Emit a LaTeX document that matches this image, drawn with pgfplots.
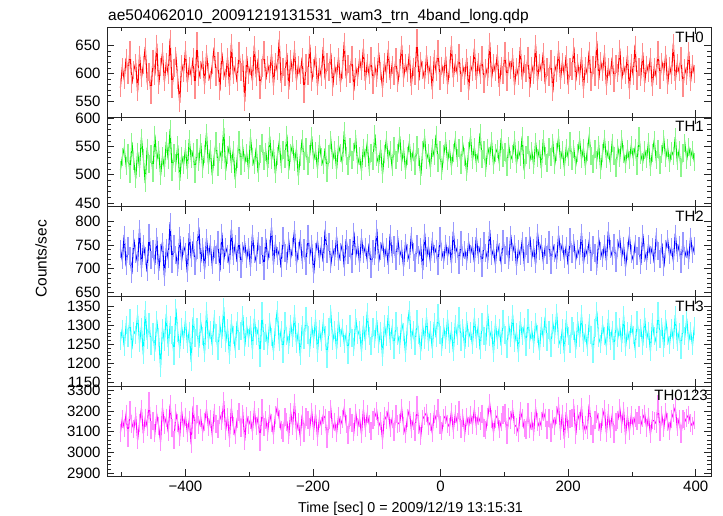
\documentclass[border=0pt]{standalone}
\usepackage{fontspec}
\setmainfont{Liberation Sans}
\usepackage{pgfplots}
\pgfplotsset{compat=1.18}
\usepackage{pgfplotstable}

\definecolor{qred}{rgb}{1,0,0}
\definecolor{qgreen}{rgb}{0,0.92,0}
\definecolor{qblue}{rgb}{0,0,1}
\definecolor{qcyan}{rgb}{0,1,1}
\definecolor{qmag}{rgb}{1,0,1}

\pgfplotstableread{
t a b c d e
-502 574 508 742 1258 3095
-499 612 531 718 1291 3162
-496 589 547 771 1244 3118
-493 628 516 705 1302 3187
-490 597 539 748 1268 3071
-487 643 501 726 1319 3204
-484 581 558 689 1237 3139
-481 606 524 763 1285 3112
-478 619 493 731 1276 3176
-475 566 541 712 1329 3058
-472 634 512 784 1253 3143
-469 592 566 701 1297 3211
-466 615 529 752 1221 3089
-463 648 485 727 1340 3167
-460 587 548 693 1262 3124
-457 603 519 776 1308 3248
-454 561 537 719 1247 3106
-451 627 503 741 1283 3152
-448 596 571 708 1231 3091
-445 654 526 767 1315 3183
-442 579 544 695 1269 3127
-439 611 498 733 1188 3049
-436 638 533 756 1294 3215
-433 585 512 682 1256 3134
-430 621 559 744 1331 3168
-427 598 527 721 1243 3097
-424 663 581 798 1302 3232
-421 572 505 710 1276 3116
-418 609 538 753 1219 3058
-415 632 521 729 1345 3189
-412 589 552 703 1281 3142
-409 547 489 769 1238 3076
-406 617 534 716 1297 3201
-403 601 517 748 1262 3119
-400 642 546 735 1314 3173
-397 583 509 691 1251 3094
-394 614 563 775 1286 3157
-391 596 528 722 1203 3039
-388 629 541 758 1322 3224
-385 571 502 706 1267 3108
-382 658 547 739 1295 3186
-379 593 523 787 1241 3131
-376 607 556 713 1308 3167
-373 624 511 746 1273 3099
-370 579 537 698 1226 3145
-367 636 574 764 1339 3208
-364 602 518 725 1261 3121
-361 588 545 751 1288 3163
-358 615 499 707 1247 3085
-355 647 532 742 1316 3192
-352 594 559 728 1279 3136
-349 622 514 761 1232 3112
-346 568 541 694 1301 3178
-343 638 527 776 1264 3149
-340 605 583 718 1348 3247
-337 591 506 745 1253 3103
-334 629 535 732 1292 3171
-331 577 552 709 1221 3068
-328 655 519 784 1307 3216
-325 598 543 726 1276 3129
-322 613 492 751 1238 3084
-319 584 528 714 1311 3162
-316 641 561 768 1259 3193
-313 603 515 699 1284 3117
-310 618 547 737 1327 3185
-307 549 521 753 1244 3057
-304 632 538 721 1298 3174
-301 597 509 745 1266 3132
-298 614 566 704 1302 3158
-295 586 532 772 1235 3101
-292 651 517 731 1319 3204
-289 593 548 715 1272 3126
-286 627 503 758 1291 3169
-283 571 536 728 1213 3052
-280 609 557 747 1337 3213
-277 642 524 696 1258 3121
-274 588 541 764 1281 3156
-271 616 512 719 1247 3098
-268 599 569 741 1309 3187
-265 635 527 787 1269 3144
-262 578 546 709 1232 3086
-259 621 501 753 1296 3178
-256 604 533 726 1341 3219
-253 661 558 738 1255 3163
-250 583 519 702 1287 3109
-247 612 544 769 1224 3095
-244 594 528 734 1312 3171
-241 637 571 716 1273 3148
-238 571 508 758 1248 3082
-235 626 539 723 1305 3194
-232 601 553 745 1266 3127
-229 643 522 781 1329 3238
-226 587 545 711 1251 3103
-223 615 497 737 1283 3145
-220 598 532 762 1219 3076
-217 629 563 719 1301 3182
-214 563 524 743 1262 3091
-211 618 549 705 1325 3169
-208 596 515 774 1276 3154
-205 652 537 728 1241 3121
-202 585 568 751 1298 3197
-199 609 526 689 1263 3105
-196 633 542 736 1317 3186
-193 577 511 759 1228 3074
-190 612 555 721 1291 3163
-187 594 531 747 1256 3128
-184 648 518 714 1308 3179
-181 589 547 782 1274 3166
-178 621 503 732 1211 3063
-175 602 536 756 1296 3155
-172 637 561 709 1331 3207
-169 575 527 741 1259 3112
-166 614 544 724 1287 3148
-163 596 509 768 1236 3093
-160 629 552 717 1312 3176
-157 582 538 735 1268 3131
-154 606 521 751 1294 3159
-151 657 577 703 1252 3214
-148 591 534 762 1278 3138
-145 617 515 729 1223 3084
-142 599 549 744 1305 3172
-139 634 526 711 1267 3143
-136 568 541 778 1242 3096
-133 611 564 726 1319 3191
-130 593 518 749 1274 3122
-127 627 533 712 1289 3165
-124 605 507 765 1231 3087
-121 646 548 731 1302 3208
-118 586 529 746 1258 3117
-115 619 556 718 1336 3186
-112 597 513 753 1271 3139
-109 631 539 699 1245 3101
-106 579 525 741 1297 3157
-103 613 572 727 1263 3173
-100 592 531 784 1314 3198
-97 638 519 715 1252 3126
-94 604 546 738 1286 3149
-91 574 501 756 1217 3061
-88 621 537 722 1303 3176
-85 599 562 745 1269 3158
-82 643 528 708 1327 3201
-79 588 543 773 1258 3119
-76 616 514 731 1294 3162
-73 595 551 749 1236 3098
-70 629 527 716 1311 3184
-67 583 539 762 1272 3137
-64 609 568 727 1249 3144
-61 652 522 741 1306 3212
-58 591 545 704 1283 3126
-55 618 509 755 1227 3089
-52 601 534 733 1299 3168
-49 636 557 719 1341 3205
-46 577 523 768 1262 3115
-43 612 541 736 1288 3153
-40 595 516 712 1245 3097
-37 664 552 751 1316 3228
-34 587 531 728 1274 3134
-31 623 498 745 1232 3079
-28 606 543 697 1297 3162
-25 589 566 776 1261 3177
-22 633 527 723 1322 3191
-19 598 539 747 1255 3128
-16 615 512 714 1287 3146
-13 571 548 759 1239 3094
-10 627 533 731 1309 3187
-7 603 571 742 1268 3159
-4 644 521 706 1334 3214
-1 586 544 769 1276 3131
2 614 507 735 1243 3101
5 597 536 718 1295 3164
8 631 559 753 1261 3178
11 579 524 726 1318 3139
14 608 545 749 1252 3122
17 651 515 711 1286 3196
20 592 538 779 1229 3107
23 619 562 732 1304 3183
26 601 529 744 1271 3145
29 637 547 708 1326 3206
32 583 518 761 1257 3113
35 612 553 725 1292 3167
38 596 531 739 1238 3092
41 628 504 717 1312 3171
44 569 542 756 1267 3126
47 615 567 731 1285 3181
50 603 526 748 1248 3134
53 646 549 713 1321 3209
56 588 521 767 1264 3128
59 621 537 729 1297 3174
62 598 574 745 1235 3149
65 633 528 702 1309 3187
68 581 543 758 1273 3119
71 609 512 734 1256 3108
74 594 548 719 1331 3172
77 657 533 782 1269 3236
80 591 559 727 1288 3161
83 618 517 741 1227 3097
86 602 538 709 1305 3163
89 635 546 754 1262 3178
92 576 522 736 1294 3112
95 613 565 712 1246 3147
98 597 529 763 1318 3181
101 641 541 728 1275 3192
104 585 514 747 1239 3086
107 622 551 718 1301 3169
110 606 527 771 1266 3157
113 629 536 735 1329 3207
116 578 561 752 1254 3131
119 611 519 706 1283 3124
122 596 544 742 1228 3095
125 648 532 727 1312 3199
128 589 568 759 1271 3167
131 617 508 714 1296 3116
134 601 535 748 1243 3108
137 632 553 731 1319 3193
140 574 526 768 1262 3114
143 614 542 723 1287 3152
146 598 517 744 1251 3097
149 653 558 709 1308 3213
152 587 529 776 1277 3148
155 619 546 737 1233 3122
158 603 511 752 1299 3151
161 638 563 716 1268 3196
164 581 534 745 1323 3167
167 612 521 729 1257 3108
170 594 549 761 1289 3168
173 627 532 707 1241 3093
176 566 557 749 1306 3162
179 615 518 733 1275 3127
182 601 541 718 1334 3179
185 642 566 771 1263 3225
188 588 526 736 1248 3103
191 621 543 752 1292 3187
194 597 513 721 1226 3064
197 633 548 747 1315 3194
200 579 531 708 1271 3111
203 611 559 766 1252 3161
206 604 524 732 1298 3168
209 648 545 754 1284 3214
212 586 517 719 1237 3085
215 618 538 741 1311 3183
218 595 562 727 1267 3152
221 630 528 775 1329 3219
224 572 547 711 1254 3101
227 613 515 743 1281 3134
230 599 541 729 1243 3109
233 641 568 758 1307 3232
236 584 533 714 1276 3129
239 616 519 749 1224 3088
242 593 546 734 1293 3158
245 659 527 706 1337 3186
248 588 552 763 1266 3147
251 622 508 738 1251 3096
254 603 539 722 1302 3171
257 636 564 751 1273 3207
260 577 528 716 1245 3091
263 611 543 779 1318 3188
266 595 521 741 1258 3113
269 629 557 727 1289 3178
272 583 534 755 1232 3089
275 617 512 712 1311 3148
278 601 548 744 1268 3157
281 645 529 763 1296 3213
284 589 563 725 1253 3137
287 614 537 748 1327 3202
290 598 519 704 1242 3082
293 633 545 737 1285 3176
296 571 526 769 1261 3102
299 619 552 731 1304 3179
302 596 531 719 1276 3128
305 652 548 752 1239 3167
308 587 516 726 1313 3149
311 611 569 747 1268 3181
314 594 535 708 1292 3131
317 638 522 773 1247 3164
320 582 544 734 1321 3187
323 616 528 716 1263 3119
326 601 558 751 1286 3172
329 629 513 729 1231 3088
332 576 539 745 1308 3156
335 612 561 712 1272 3151
338 595 527 766 1256 3139
341 643 546 737 1339 3233
344 588 518 721 1264 3098
347 621 537 754 1297 3178
350 603 563 703 1241 3117
353 634 529 742 1316 3195
356 579 548 762 1273 3148
359 614 521 728 1249 3104
362 597 542 745 1294 3163
365 655 534 716 1262 3189
368 586 567 774 1327 3217
371 618 525 733 1255 3121
374 602 543 749 1282 3161
377 631 512 711 1236 3087
380 573 538 758 1303 3159
383 609 556 726 1271 3149
386 596 527 741 1318 3168
389 640 549 719 1258 3181
392 584 531 767 1285 3142
395 617 544 732 1247 3126
398 599 522 748 1298 3154
}\datatable

\pgfplotsset{
  panel/.style={
    scale only axis, width=604pt, height=89.7pt, anchor=south west,
    xmin=-523, xmax=424,
    xtick={-400,-200,0,200,400}, minor xtick={-500,-300,-100,100,300},
    xticklabels={},
    minor y tick num=4,
    tick align=inside,
    major tick length=7pt, minor tick length=4pt,
    axis line style={line width=0.9pt, black!85},
    every tick/.style={black!85, line width=0.7pt},
    ticklabel style={font=\fontsize{15}{17}\selectfont},
    yticklabel style={xshift=-3pt},
    /pgf/number format/assume math mode=true,
    /pgf/number format/1000 sep={},
    clip=true,
  },
  halo/.style={only marks, mark=|, mark size=9pt, forget plot, color=#1,
    mark options={line width=1.2pt}},
}

\begin{document}
\begin{tikzpicture}[x=1pt,y=1pt]
\useasboundingbox (0,0) rectangle (723,516);

% TH0
\begin{axis}[panel, at={(107pt,398.8pt)}, ymin=521, ymax=683, ytick={550,600,650}]
\addplot[halo=qred!45] table[x=t,y=a]{\datatable};
\addplot[qred, line width=1.05pt] table[x=t,y=a]{\datatable};
\end{axis}
% TH1
\begin{axis}[panel, at={(107pt,309.1pt)}, ymin=443, ymax=602, ytick={450,500,550,600}]
\addplot[halo=qgreen!45] table[x=t,y=b]{\datatable};
\addplot[qgreen, line width=1.05pt] table[x=t,y=b]{\datatable};
\end{axis}
% TH2
\begin{axis}[panel, at={(107pt,219.4pt)}, ymin=641.5, ymax=830, ytick={650,700,750,800}]
\addplot[halo=qblue!40] table[x=t,y=c]{\datatable};
\addplot[qblue, line width=1.05pt] table[x=t,y=c]{\datatable};
\end{axis}
% TH3
\begin{axis}[panel, at={(107pt,129.7pt)}, ymin=1139.5, ymax=1376, ytick={1150,1200,1250,1300,1350}]
\addplot[halo=qcyan!50] table[x=t,y=d]{\datatable};
\addplot[qcyan, line width=1.05pt] table[x=t,y=d]{\datatable};
\end{axis}
% TH0123
\begin{axis}[panel, at={(107pt,40pt)}, ymin=2885.5, ymax=3319, ytick={2900,3000,3100,3200,3300},
  xticklabels={−400,−200,0,200,400},
  xticklabel style={yshift=-1pt}]
\addplot[halo=qmag!45] table[x=t,y=e]{\datatable};
\addplot[qmag, line width=1.05pt] table[x=t,y=e]{\datatable};
\end{axis}

\node[anchor=north east, font=\fontsize{15}{17}\selectfont, inner sep=0pt] at (704,484.5) {TH0};
\node[anchor=north east, font=\fontsize{15}{17}\selectfont, inner sep=0pt] at (704,394.8) {TH1};
\node[anchor=north east, font=\fontsize{15}{17}\selectfont, inner sep=0pt] at (704,305.1) {TH2};
\node[anchor=north east, font=\fontsize{15}{17}\selectfont, inner sep=0pt] at (704,215.4) {TH3};
\node[anchor=north east, font=\fontsize{15}{17}\selectfont, inner sep=0pt] at (708,125.7) {TH0123};

\node[anchor=base west, font=\fontsize{15.5}{17}\selectfont, inner sep=0pt] at (108,495.3) {ae504062010\_20091219131531\_wam3\_trn\_4band\_long.qdp};
\node[anchor=base, font=\fontsize{14.3}{16}\selectfont, inner sep=0pt] at (410.5,3) {Time [sec] 0 = 2009/12/19 13:15:31};
\node[rotate=90, font=\fontsize{15.5}{17}\selectfont, inner sep=0pt] at (41,257) {Counts/sec};
\end{tikzpicture}
\end{document}
